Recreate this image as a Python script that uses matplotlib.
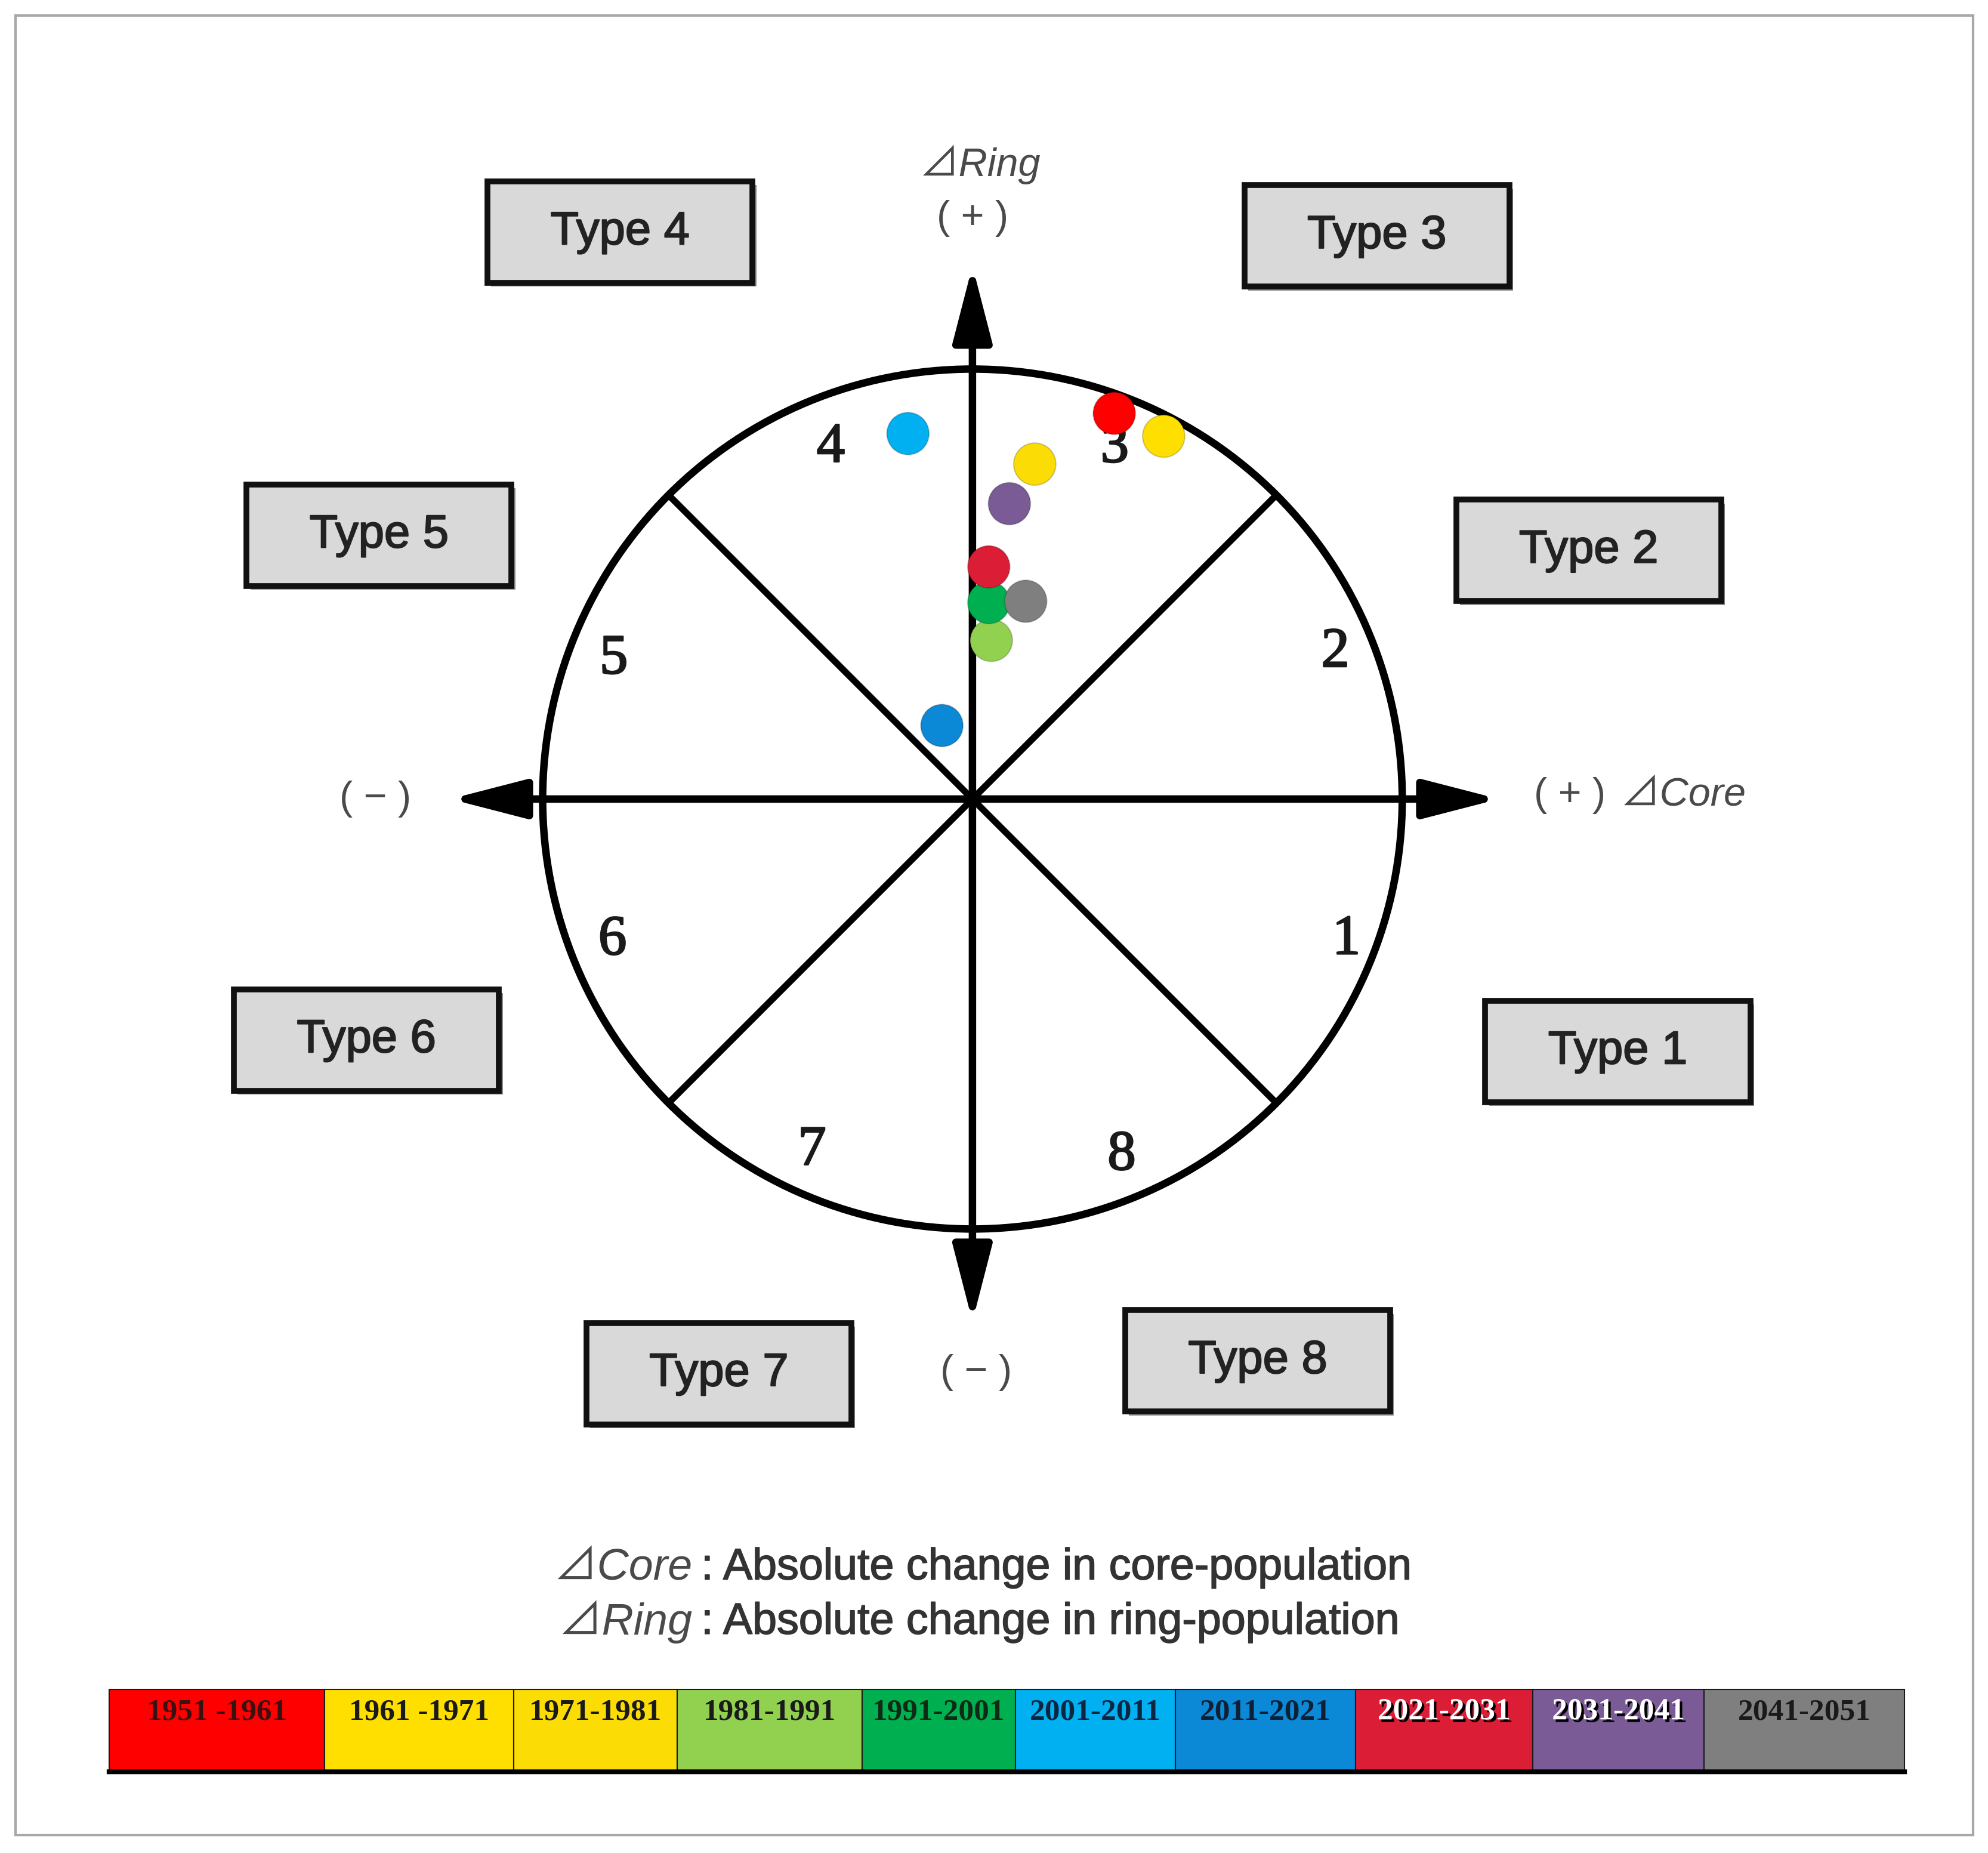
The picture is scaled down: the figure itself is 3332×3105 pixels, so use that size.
import matplotlib
matplotlib.use('Agg')
import matplotlib.pyplot as plt
import matplotlib.patheffects as pe
from matplotlib.patches import Circle, Rectangle
import numpy as np

# decades in the legend strip and their colours
periods = ['1951 -1961', '1961 -1971', '1971-1981', '1981-1991', '1991-2001',
           '2001-2011', '2011-2021', '2021-2031', '2031-2041', '2041-2051']
period_colors = ['#fe0000', '#ffdf00', '#fbdc05', '#92d050', '#00b050',
                 '#00b0f0', '#0b88d6', '#dc1d36', '#7a5b96', '#7f7f7f']
label_colors = ['#3a1010', '#1a1a1a', '#1a1a1a', '#1a1a1a', '#0f2a15',
                '#0d2540', '#0d2035', 'white', 'white', '#1a1a1a']

# position of each decade in the core/ring plane (circle radius = 1)
d_core = [0.330, 0.445, 0.145, 0.044, 0.038, -0.150, -0.071, 0.038, 0.086, 0.124]
d_ring = [0.897, 0.844, 0.779, 0.369, 0.457, 0.850, 0.171, 0.540, 0.687, 0.460]

type_labels = ['Type 1', 'Type 2', 'Type 3', 'Type 4',
               'Type 5', 'Type 6', 'Type 7', 'Type 8']
sector_labels = ['1', '2', '3', '4', '5', '6', '7', '8']

core_note = ': Absolute change in core-population'
ring_note = ': Absolute change in ring-population'

# layout (in 1568x1461 page units)
W, H = 1568, 1461
cx, cy, R = 767, 630, 339
box_centers = [(1276, 829), (1253, 434), (1086, 186), (489, 183),
               (299, 422), (289, 820), (567, 1083), (992, 1073)]
box_w, box_h = 209, 80
strip_edges = [86, 256, 405, 534, 680, 801, 927, 1069, 1209, 1344, 1502]
strip_top, strip_bot = 1332, 1398
# where the sector numbers sit (angle in degrees, radius)
num_angle = [-20.7, 21.9, 67.9, 112.0, 158.8, 201.5, 245.5, 292.7]
num_rad = [0.93, 0.91, 0.88, 0.88, 0.895, 0.90, 0.90, 0.90]

sans = ['Liberation Sans', 'DejaVu Sans']
delta_font = ['Liberation Sans', 'Noto Sans CJK JP', 'DejaVu Sans']
serif = ['Liberation Serif', 'DejaVu Serif']
txt_gray = '#4a4a4a'

fig = plt.figure(figsize=(33.32, 31.05), dpi=100)
fig.patch.set_facecolor('white')

ax = fig.add_axes([0, 0, 1, 1])
ax.set_xlim(0, W)
ax.set_ylim(H, 0)
ax.axis('off')

# outer frame
ax.add_patch(Rectangle((12, 12), 1544, 1435, fill=False, ec='#a8a8a8', lw=3))

# type boxes
for (bx, by), lab in zip(box_centers, type_labels):
    ax.add_patch(Rectangle((bx - box_w / 2 + 3, by - box_h / 2 + 3), box_w, box_h,
                           fc='#8a8a8a', ec='none', zorder=2))
    ax.add_patch(Rectangle((bx - box_w / 2, by - box_h / 2), box_w, box_h,
                           fc='#d9d9d9', ec='#111111', lw=7, zorder=3))
    ax.text(bx, by, lab, ha='center', va='center', fontsize=56,
            family=sans, color='#222222', zorder=4,
            path_effects=[pe.withStroke(linewidth=1.5, foreground='#222222')])

# axis end labels
ax.text(773, 130, '⊿Ring', ha='center', va='center', fontsize=48,
        family=delta_font, style='italic', color=txt_gray)
ax.text(767, 172, '( + )', ha='center', va='center', fontsize=48,
        family=sans, color=txt_gray)
ax.text(296, 630, '( − )', ha='center', va='center', fontsize=48,
        family=sans, color=txt_gray)
ax.text(1238, 627, '( + )', ha='center', va='center', fontsize=48,
        family=sans, color=txt_gray)
ax.text(1278, 627, '⊿Core', ha='left', va='center', fontsize=48,
        family=delta_font, style='italic', color=txt_gray)
ax.text(770, 1082, '( − )', ha='center', va='center', fontsize=48,
        family=sans, color=txt_gray)

# footnotes
for y, key, note in [(1236, '⊿Core', core_note), (1279, '⊿Ring', ring_note)]:
    ax.text(546, y, key, ha='right', va='center', fontsize=53,
            family=delta_font, style='italic', color=txt_gray)
    ax.text(553, y, note, ha='left', va='center', fontsize=53,
            family=sans, color='#333333',
            path_effects=[pe.withStroke(linewidth=1.2, foreground='#333333')])

# legend strip
for i, (lab, col) in enumerate(zip(periods, period_colors)):
    x0, x1 = strip_edges[i], strip_edges[i + 1]
    ax.add_patch(Rectangle((x0, strip_top), x1 - x0, strip_bot - strip_top,
                           fc=col, ec='#1a1a1a', lw=1.5))
    if label_colors[i] == 'white':
        effects = [pe.SimplePatchShadow(offset=(3, -3), shadow_rgbFace='black', alpha=1.0),
                   pe.Normal()]
    else:
        effects = None
    ax.text((x0 + x1) / 2, 1350, lab, ha='center', va='center', fontsize=37,
            family=serif, weight='bold',
            color=label_colors[i], path_effects=effects)
ax.plot([strip_edges[0], strip_edges[-1]], [strip_bot - 1, strip_bot - 1],
        color='black', lw=6)

# circle diagram on its own axes
k = 1.35
ax2 = fig.add_axes([(cx - k * R) / W, 1 - (cy + k * R) / H, 2 * k * R / W, 2 * k * R / H])
ax2.set_xlim(-k, k)
ax2.set_ylim(-k, k)
ax2.axis('off')
ax2.patch.set_alpha(0)

ax2.add_patch(Circle((0, 0), 1, fill=False, ec='black', lw=9))
for ang in [45, 135, 225, 315]:
    a = np.radians(ang)
    ax2.plot([0, np.cos(a)], [0, np.sin(a)], color='black', lw=8, solid_capstyle='butt')

arrow = dict(arrowstyle='<|-|>,head_length=1.55,head_width=0.4', mutation_scale=50,
             lw=9, color='black', shrinkA=0, shrinkB=0)
ax2.annotate('', xy=(1.225, 0), xytext=(-1.215, 0), arrowprops=arrow)
ax2.annotate('', xy=(0, 1.24), xytext=(0, -1.215), arrowprops=arrow)

for lab, ang, r in zip(sector_labels, num_angle, num_rad):
    a = np.radians(ang)
    ax2.text(r * np.cos(a), r * np.sin(a), lab, ha='center', va='center',
             fontsize=68, family=serif, color='#1a1a1a',
             path_effects=[pe.withStroke(linewidth=2, foreground='#1a1a1a')])

ax2.scatter(d_core, d_ring, s=2600, c=period_colors, edgecolors='#00000030',
            linewidths=1.5, zorder=5)

fig.savefig('out.png', dpi=100)
plt.close(fig)
